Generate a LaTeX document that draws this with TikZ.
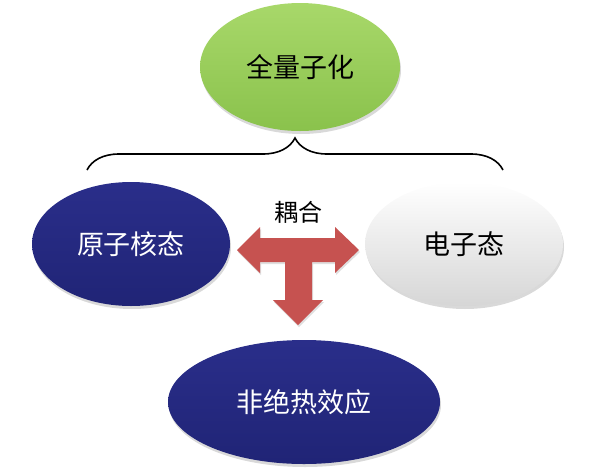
\documentclass[tikz,border=0pt]{standalone}
\usepackage{fontspec}
\usepackage{tikz}
\usetikzlibrary{shapes.geometric,shadows,decorations.pathreplacing}
\newfontfamily\cjk{Noto Sans CJK SC}
\definecolor{vertclair}{RGB}{168,216,106}
\definecolor{vertfonce}{RGB}{138,194,76}
\definecolor{bleuclair}{RGB}{42,46,138}
\definecolor{bleufonce}{RGB}{32,36,118}
\definecolor{grisbas}{RGB}{214,214,214}
\definecolor{rougefleche}{RGB}{198,82,80}
\newcommand{\gros}[1]{\fontsize{27}{30}\selectfont #1}

\begin{document}
\begin{tikzpicture}[x=1pt, y=-1pt,
  every node/.style = {font=\cjk, align=center},
  etat/.style = {ellipse, inner sep=0pt, minimum width=198pt, minimum height=124pt,
    drop shadow={opacity=0.3, shadow xshift=1pt, shadow yshift=-3pt}},
  vert/.style = {etat, top color=vertclair, bottom color=vertfonce, text=black},
  bleu/.style = {etat, top color=bleuclair, bottom color=bleufonce, text=white},
  blanc/.style = {etat, top color=white, bottom color=grisbas, text=black},
  accolade/.style = {decorate, decoration={brace, amplitude=32pt}, line width=1.6pt},
  fleche/.style = {fill=rougefleche, drop shadow={opacity=0.25, shadow xshift=1pt, shadow yshift=-2pt}}]
  \useasboundingbox (0,0) rectangle (598,475);

  \node[vert, minimum width=200pt, minimum height=128pt] (quant) at (300,67) {\gros{全量子化}};
  \node[bleu] (noyau) at (131,244) {\gros{原子核态}};
  \node[blanc] (elec) at (464,244) {\gros{电子态}};
  \node[bleu, minimum width=272pt] (nonad) at (304,402) {\gros{非绝热效应}};
  \node (couplage) at (298,212) {\fontsize{24}{26}\selectfont 耦合};

  \coordinate (accg) at (87,170);
  \coordinate (accd) at (503,170);
  \draw[accolade] (accg) -- (accd);

  \fill[fleche] (237,250) -- (260,227) -- (260,238) -- (335,238) -- (335,227)
    -- (359,250) -- (335,273) -- (335,262) -- (312,262) -- (312,300)
    -- (323,300) -- (298,325) -- (273,300) -- (285,300) -- (285,262)
    -- (260,262) -- (260,273) -- cycle;
\end{tikzpicture}
\end{document}
